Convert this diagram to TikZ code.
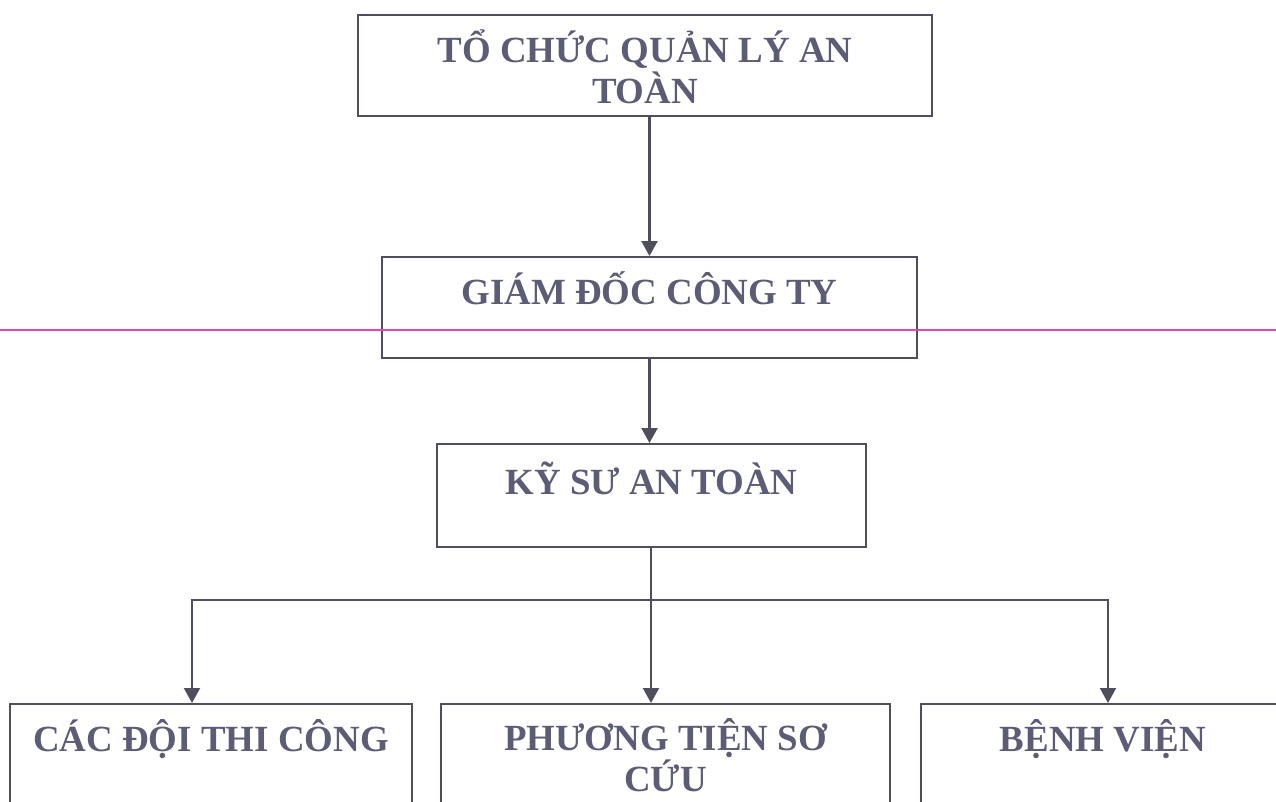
\documentclass[tikz,border=0pt]{standalone}
\usepackage{fontspec}
\setmainfont{Liberation Serif}
\usetikzlibrary{arrows.meta}
\definecolor{linecol}{RGB}{78,78,92}
\definecolor{txtcol}{RGB}{92,92,118}
\definecolor{pinkcol}{RGB}{232,70,170}

\begin{document}
\begin{tikzpicture}[x=0.02cm, y=-0.02cm,
  box/.style={draw=linecol, line width=1.2pt, anchor=north, inner xsep=0pt, inner ysep=0pt,
    align=center, text=txtcol, font=\bfseries\fontsize{21}{22.8}\selectfont},
  arr/.style={draw=linecol, line width=1.2pt, -{Triangle[length=0.3cm,width=0.32cm]}}]
\useasboundingbox (0,0) rectangle (1276,802);
\clip (0,0) rectangle (1276,802);
\node[box, minimum width=11.48cm, text height=1.76cm, text depth=0.26cm] (org) at (645,14) {TỔ CHỨC QUẢN LÝ AN\\TOÀN};
\node[box, minimum width=10.7cm, text height=0.94cm, text depth=1.08cm] (gd) at (649.5,256) {GIÁM ĐỐC CÔNG TY};
\node[box, minimum width=8.58cm, text height=1.0cm, text depth=1.06cm] (ks) at (651.5,443) {KỸ SƯ AN TOÀN};
\node[box, minimum width=8.04cm, text height=0.94cm, text depth=2.2cm] (doi) at (211,703) {CÁC ĐỘI THI CÔNG};
\node[box, minimum width=8.98cm, text height=1.74cm, text depth=1.4cm] (pt) at (665.5,703) {PHƯƠNG TIỆN SƠ\\CỨU};
\node[box, minimum width=7.28cm, text height=0.94cm, text depth=2.2cm] (bv) at (1103,703) {BỆNH VIỆN};
\coordinate (split) at (651,600);
\draw[arr] (org.south -| gd.north) -- (gd.north);
\draw[arr] (gd.south) -- (gd.south |- ks.north);
\draw[draw=linecol, line width=1.2pt] (ks.south -| split) -- (split);
\draw[arr] (split) -| ([xshift=-0.38cm]doi.north);
\draw[arr] (split) -- (split |- pt.north);
\draw[arr] (split) -| ([xshift=0.1cm]bv.north);
% pink rule across the page
\draw[pinkcol, line width=0.8pt] (0,330) -- (1276,330);
\end{tikzpicture}
\end{document}
